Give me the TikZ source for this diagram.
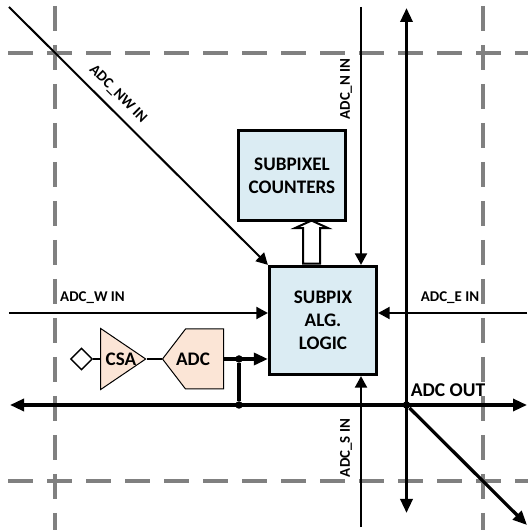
\documentclass[tikz,border=0pt]{standalone}
\usepackage{fontspec}
\setmainfont{Carlito}
\usetikzlibrary{positioning,arrows.meta,shapes.geometric,shapes.symbols,shapes.arrows}

\definecolor{blockblue}{HTML}{DBECF3}
\definecolor{blockpeach}{HTML}{FBE5D6}
\definecolor{gridgray}{HTML}{808080}

\begin{document}
\begin{tikzpicture}[
  blk/.style={draw, line width=0.065cm, fill=blockblue, inner sep=0pt,
              minimum width=2.14cm, align=center, font=\fontsize{10.9}{13.1}\selectfont\bfseries},
  amp/.style={draw, line width=0.02cm, fill=blockpeach, inner sep=0pt},
  amplbl/.style={font=\fontsize{10.9}{12}\selectfont\bfseries, inner sep=0pt},
  grid/.style={gridgray, line width=0.065cm, dash pattern=on 0.5cm off 0.28cm},
  inarr/.style={-{Triangle[length=2.3mm,width=2.4mm]}, line width=0.04cm},
  outarr/.style={{Triangle[length=2.8mm,width=2.4mm]}-{Triangle[length=2.8mm,width=2.4mm]}, line width=0.065cm},
  thin wire/.style={line width=0.028cm},
  dot/.style={circle, fill=black, inner sep=0pt, minimum size=0.15cm},
  lbl/.style={font=\fontsize{8.5}{10}\selectfont\bfseries, inner sep=0pt}
]
\useasboundingbox (0,0) rectangle (10.56,10.6);

% pixel grid lines
\draw[grid] (0.16,9.54) -- (10.56,9.54);
\draw[grid] (0.16,0.98) -- (10.56,0.98);
\draw[grid] (1.10,10.48) -- (1.10,0);
\draw[grid] (9.66,10.48) -- (9.66,0);

% blocks
\node[blk, minimum height=1.8cm]  (counters) at (5.84,7.09) {SUBPIXEL\\COUNTERS};
\node[blk, minimum height=2.16cm] (logic)    at (6.46,4.19) {SUBPIX\\ALG.\\LOGIC};

\node[single arrow, draw, fill=white, line width=0.04cm, inner xsep=0pt, inner ysep=0.15cm, outer sep=0pt,
      minimum width=0.62cm, minimum height=0.86cm, single arrow head extend=0.16cm,
      single arrow tip angle=131, rotate=90] (busarrow) at (6.23,5.72) {};

% front end
\node[diamond, draw, fill=white, line width=0.028cm, inner sep=0pt, minimum size=0.44cm] (pad) at (1.63,3.42) {};
\node[amp, isosceles triangle, isosceles triangle stretches, minimum width=1.22cm, minimum height=0.90cm,
      anchor=apex] (csa) at (2.94,3.42) {};
\node[amplbl] (csalbl) at (2.42,3.42) {CSA};
\node[amp, signal, signal to=west, signal from=nowhere, signal pointer angle=105,
      minimum width=1.22cm, minimum height=1.2cm, anchor=east] (adc) at (4.48,3.42) {};
\node[amplbl] (adclbl) at (3.86,3.42) {ADC};

\draw[thin wire] (pad) -- (csa.west |- pad);
\draw[thin wire] (csa.apex) -- (adc.west);

% free ends
\coordinate (nw_in) at (0.18,10.46);
\coordinate (n_in)  at (7.22,10.46);
\coordinate (w_in)  at (0.18,4.34);
\coordinate (e_in)  at (10.54,4.34);
\coordinate (s_in)  at (7.22,0.06);
\coordinate (bus_w) at (0.20,2.50);
\coordinate (bus_e) at (10.54,2.50);
\coordinate (out_n) at (8.13,10.44);
\coordinate (out_s) at (8.13,0.34);
\coordinate (out_se) at (10.54,0.10);

\node[dot] (j_adc) at (4.78,3.42) {};
\node[dot] (j_bus) at (4.78,2.50) {};
\node[dot] (j_out) at (8.13,2.50) {};

% input edges
\draw[inarr] (nw_in) -- (logic.north west);
\draw[inarr] (n_in) -- (logic.north -| n_in);
\draw[inarr] (w_in) -- (logic.west |- w_in);
\draw[inarr] (e_in) -- (logic.east |- e_in);
\draw[inarr] (s_in) -- (logic.south -| s_in);

% output edges
\draw[outarr] (bus_w) -- (bus_e);
\draw[outarr] (out_s) -- (out_n);
\draw[-{Triangle[length=2.8mm,width=2.4mm]}, line width=0.065cm] (j_out) -- (out_se);
\draw[-{Triangle[length=2.8mm,width=2.4mm]}, line width=0.065cm] (adc.east) -- (logic.west |- adc.east);
\draw[line width=0.065cm] (j_adc) -- (j_bus);

% labels
\node[lbl, rotate=-45] (nw_lbl) at (2.36,8.72) {ADC\_NW IN};
\node[lbl, rotate=90]  (n_lbl)  at (6.92,8.82) {ADC\_N IN};
\node[lbl] (w_lbl) at (1.85,4.64) {ADC\_W IN};
\node[lbl] (e_lbl) at (9.00,4.64) {ADC\_E IN};
\node[lbl, rotate=90]  (s_lbl)  at (6.92,1.64) {ADC\_S IN};
\node[font=\fontsize{11.1}{12}\selectfont\bfseries, inner sep=0pt] (out_lbl) at (8.96,2.80) {ADC OUT};

\end{tikzpicture}
\end{document}
